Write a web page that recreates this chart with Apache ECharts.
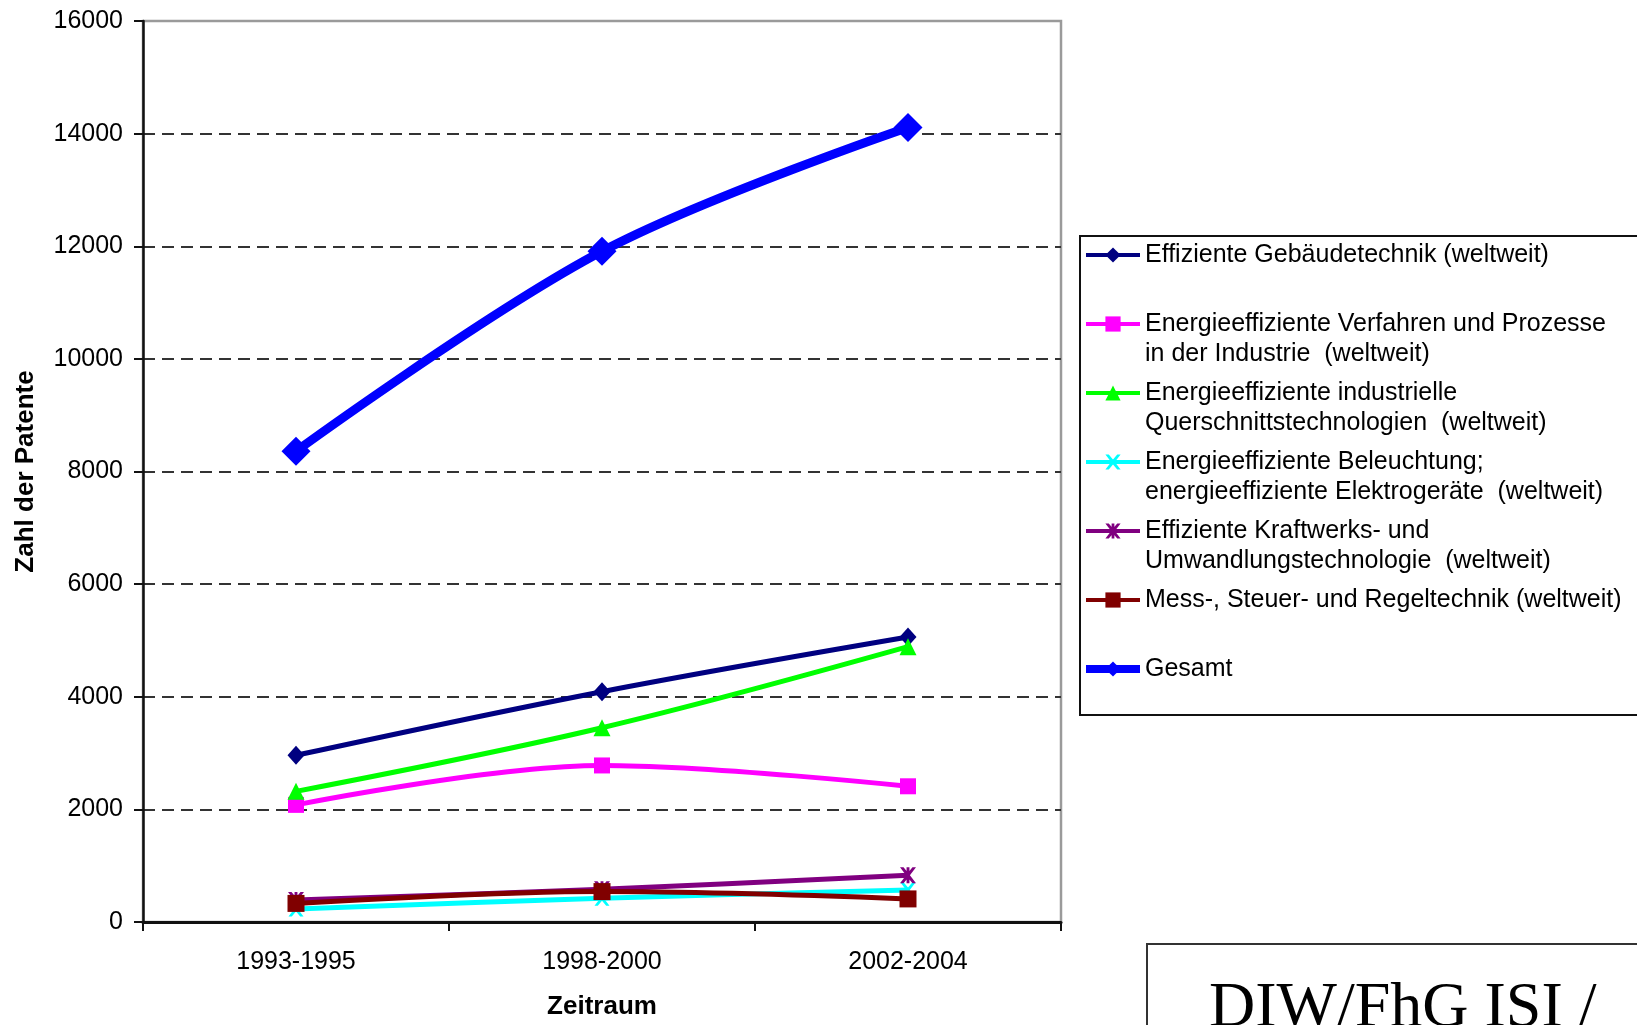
<!DOCTYPE html>
<html><head><meta charset="utf-8">
<script src="https://cdn.jsdelivr.net/npm/echarts@6/dist/echarts.min.js"></script>
<style>html,body{margin:0;padding:0;background:#fff;}#c{width:1637px;height:1025px;}</style>
</head><body><div id="c"></div>
<script>
// ---- data ----
const categories = ['1993-1995', '1998-2000', '2002-2004'];
const yTicks = [0, 2000, 4000, 6000, 8000, 10000, 12000, 14000, 16000];
const gebaeude     = [2960, 4090, 5060];
const verfahren    = [2080, 2780, 2410];
const querschnitt  = [2320, 3450, 4890];
const beleuchtung  = [230, 420, 570];
const kraftwerk    = [390, 580, 830];
const messtechnik  = [330, 540, 410];
const gesamt       = [8360, 11910, 14110];

const names = [
  'Effiziente Gebäudetechnik (weltweit)',
  'Energieeffiziente Verfahren und Prozesse in der Industrie  (weltweit)',
  'Energieeffiziente industrielle Querschnittstechnologien  (weltweit)',
  'Energieeffiziente Beleuchtung; energieeffiziente Elektrogeräte  (weltweit)',
  'Effiziente Kraftwerks- und Umwandlungstechnologie  (weltweit)',
  'Mess-, Steuer- und Regeltechnik (weltweit)',
  'Gesamt'
];
const legendLines = [
  ['Effiziente Gebäudetechnik (weltweit)', ' '],
  ['Energieeffiziente Verfahren und Prozesse', 'in der Industrie  (weltweit)'],
  ['Energieeffiziente industrielle', 'Querschnittstechnologien  (weltweit)'],
  ['Energieeffiziente Beleuchtung;', 'energieeffiziente Elektrogeräte  (weltweit)'],
  ['Effiziente Kraftwerks- und', 'Umwandlungstechnologie  (weltweit)'],
  ['Mess-, Steuer- und Regeltechnik (weltweit)', ' '],
  ['Gesamt', ' ']
];
const sourceText = 'DIW/FhG ISI /';
const values = [gebaeude, verfahren, querschnitt, beleuchtung, kraftwerk, messtechnik, gesamt];

// ---- styles ----
const colors = ['#000080', '#FF00FF', '#00FF00', '#00FFFF', '#800080', '#800000', '#0000FF'];
const xPath = 'path://M0,0L2.2,0L5,3.4L7.8,0L10,0L6.2,5L10,10L7.8,10L5,6.6L2.2,10L0,10L3.8,5Z';
const starPath = 'path://M0,0L2.2,0L5,3.4L7.8,0L10,0L6.2,5L10,10L7.8,10L5,6.6L2.2,10L0,10L3.8,5Z M4.1,0L5.9,0L5.9,10L4.1,10Z';
const symbols = ['diamond', 'rect', 'triangle', xPath, starPath, 'rect', 'diamond'];
const symSizes = [[17, 19], 16, 17, 15, 16, 17, 29];
const lineWidths = [5, 5, 5, 5, 5, 5, 9];
const legendLineWidths = [4, 4, 4, 4, 4, 4, 8];

const FONT = '"Liberation Sans", Arial, sans-serif';

const chart = echarts.init(document.getElementById('c'), null, {renderer: 'canvas'});
const series = names.map((n, i) => ({
  name: n,
  type: 'line',
  data: values[i],
  smooth: 0.35,
  symbol: symbols[i],
  symbolSize: symSizes[i],
  showAllSymbol: true,
  color: colors[i],
  lineStyle: {color: colors[i], width: lineWidths[i]},
  itemStyle: {color: colors[i]},
  emphasis: {disabled: true},
  z: 3 + i
}));

chart.setOption({
  animation: false,
  backgroundColor: '#fff',
  grid: {left: 143, top: 21, right: 576, bottom: 97, show: true, borderColor: '#9a9a9a', borderWidth: 2.5, backgroundColor: 'transparent'},
  xAxis: {
    type: 'category', data: categories, boundaryGap: true,
    axisLine: {show: true, lineStyle: {color: '#111', width: 3}},
    axisTick: {show: true, inside: false, length: 9, lineStyle: {color: '#111', width: 2}},
    axisLabel: {color: '#000', fontFamily: FONT, fontSize: 25, margin: 28},
    splitLine: {show: false},
    name: 'Zeitraum', nameLocation: 'middle', nameGap: 72,
    nameTextStyle: {color: '#000', fontFamily: FONT, fontSize: 26, fontWeight: 'bold'}
  },
  yAxis: {
    type: 'value', min: 0, max: 16000, interval: 2000,
    axisLine: {show: true, lineStyle: {color: '#111', width: 2.5}},
    axisTick: {show: true, inside: false, length: 9, lineStyle: {color: '#111', width: 2}},
    axisLabel: {color: '#000', fontFamily: FONT, fontSize: 25, margin: 20,
      formatter: v => (yTicks.indexOf(v) >= 0 ? String(v) : '')},
    splitLine: {show: true, showMinLine: false, showMaxLine: false, lineStyle: {color: '#333', width: 2, type: [12, 7]}},
    name: 'Zahl der Patente', nameLocation: 'middle', nameGap: 104,
    nameTextStyle: {color: '#000', fontFamily: FONT, fontSize: 26, fontWeight: 'bold'}
  },
  legend: {
    orient: 'vertical', left: 1082, top: 210, padding: 0,
    itemWidth: 54, itemHeight: 19, itemGap: -21,
    selectedMode: false,
    data: names.map((n, i) => ({name: n, lineStyle: {width: legendLineWidths[i]}})),
    formatter: function (n) { const l = legendLines[names.indexOf(n)]; return '\n' + l[0] + '\n' + l[1]; },
    textStyle: {color: '#000', fontFamily: FONT, fontSize: 25, lineHeight: 30}
  },
  graphic: [
    {type: 'rect', z: -1, shape: {x: 1080, y: 236, width: 620, height: 479}, style: {fill: '#fff', stroke: '#111', lineWidth: 2}},
    {type: 'rect', z: -1, shape: {x: 1147, y: 944, width: 600, height: 200}, style: {fill: '#fff', stroke: '#333', lineWidth: 2}},
    {type: 'text', z: 10, x: 1209, y: 1009, style: {text: sourceText, fill: '#000', fontSize: 64, fontFamily: '"Liberation Serif", "Times New Roman", serif', verticalAlign: 'middle', align: 'left'}}
  ],
  series: series
});
</script></body></html>
